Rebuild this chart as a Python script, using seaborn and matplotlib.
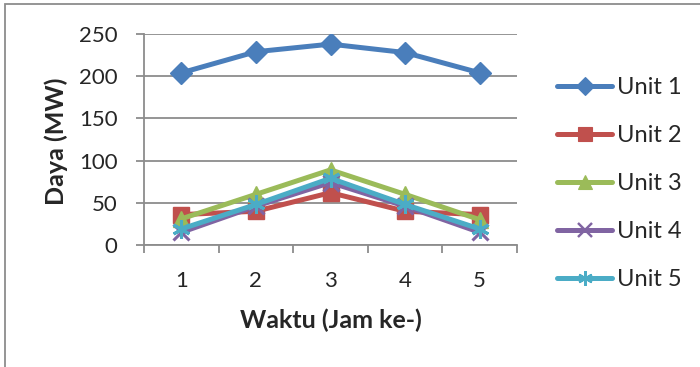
import matplotlib
matplotlib.use("Agg")
import matplotlib.pyplot as plt
from matplotlib.lines import Line2D
from matplotlib.patches import Rectangle
import seaborn as sns
import pandas as pd

# Hourly generated power per unit (MW)
jam = [1, 2, 3, 4, 5]
unit_1 = [204, 229, 238, 228, 204]
unit_2 = [36, 40, 62, 40, 36]
unit_3 = [31, 60, 89, 60, 30]
unit_4 = [15, 46, 74, 46, 15]
unit_5 = [19, 48, 79, 48, 19]
unit_names = ["Unit 1", "Unit 2", "Unit 3", "Unit 4", "Unit 5"]

colors = ["#4a7ebb", "#c0504d", "#9bbb59", "#8064a2", "#4bacc6"]
markers = ["D", "s", "^", "x", (6, 2, 0)]
msizes = [11.5, 12, 12, 12, 13]
medges = [1.0, 1.0, 1.0, 2.2, 2.2]

df = pd.DataFrame({
    "Jam": jam * 5,
    "Daya": unit_1 + unit_2 + unit_3 + unit_4 + unit_5,
    "Unit": [u for u in unit_names for _ in jam],
})

sns.set_theme(style="white")
plt.rcParams["font.family"] = ["Lato", "DejaVu Sans"]

fig = plt.figure(figsize=(7.0, 3.67), dpi=100)
ax = fig.add_axes([144 / 700, 1 - 245 / 367, (517 - 144) / 700, (245 - 34) / 367])

grid_c = "#8c8c8c"
for i, name in enumerate(unit_names):
    sub = df[df["Unit"] == name]
    sns.lineplot(data=sub, x="Jam", y="Daya", ax=ax, color=colors[i],
                 linewidth=3.6, marker=markers[i], markersize=msizes[i],
                 markeredgewidth=medges[i], markeredgecolor=colors[i],
                 markerfacecolor=colors[i], legend=False, zorder=3 + i)

ax.set_xlim(0.5, 5.5)
ax.set_ylim(0, 250)
ax.set_yticks([0, 50, 100, 150, 200, 250])
ax.yaxis.grid(True, color=grid_c, linewidth=1.3)
ax.xaxis.grid(False)
ax.set_axisbelow(True)

# category boundaries carry the tick marks, centres carry the labels
ax.set_xticks([0.5, 1.5, 2.5, 3.5, 4.5, 5.5])
ax.set_xticklabels([])
ax.set_xticks(jam, minor=True)
ax.set_xticklabels([str(j) for j in jam], minor=True)
ax.tick_params(axis="x", which="major", direction="out", length=6,
               width=1.3, color=grid_c, bottom=True)
ax.tick_params(axis="x", which="minor", length=0, pad=19, labelsize=16)
ax.tick_params(axis="y", direction="out", length=6, width=1.3,
               color=grid_c, left=True, pad=13, labelsize=16)

for s in ["top", "right"]:
    ax.spines[s].set_visible(False)
for s in ["left", "bottom"]:
    ax.spines[s].set_color(grid_c)
    ax.spines[s].set_linewidth(1.3)

ax.set_xlabel("Waktu (Jam ke-)", fontsize=18, fontweight="bold")
ax.set_ylabel("Daya (MW)", fontsize=18, fontweight="bold")
ax.xaxis.label.set(va="center", ha="center")
ax.yaxis.label.set(va="center", ha="center")
ax.xaxis.set_label_coords((331 - 144) / 373, -(320 - 245) / 211)
ax.yaxis.set_label_coords(-(144 - 56) / 373, (245 - 141) / 211)

handles = [Line2D([], [], color=colors[i], linewidth=3.6, marker=markers[i],
                  markersize=msizes[i] * 0.8, markeredgewidth=medges[i] * 0.8,
                  markeredgecolor=colors[i], markerfacecolor=colors[i])
           for i in range(5)]
fig.legend(handles, unit_names, loc="upper left",
           bbox_to_anchor=(548 / 700, 1 - 68 / 367), frameon=False,
           fontsize=17, handlelength=2.33, handletextpad=0.2,
           labelspacing=1.14, borderaxespad=0)

# chart area frame
fig.patches.append(Rectangle((5 / 700, -0.1), 1.2, (1 - 4 / 367) + 0.1,
                             transform=fig.transFigure, fill=False,
                             edgecolor=grid_c, linewidth=1.3))

fig.savefig("out.png", dpi=100)
